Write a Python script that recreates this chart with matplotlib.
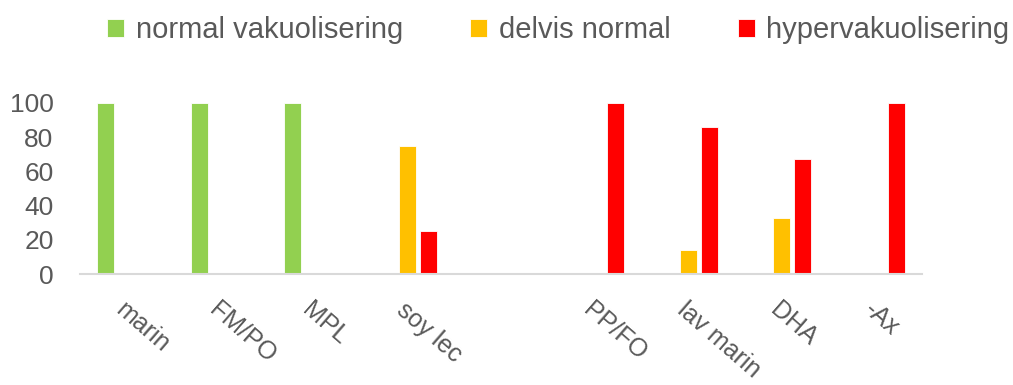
import matplotlib.pyplot as plt
import numpy as np

plt.rcParams['font.family'] = ['Liberation Sans', 'DejaVu Sans']

kategorier = ['marin', 'FM/PO', 'MPL', 'soy lec', '', 'PP/FO', 'lav marin', 'DHA', '-Ax']
normal = [100, 100, 100, 0, 0, 0, 0, 0, 0]
delvis = [0, 0, 0, 75, 0, 0, 14, 33, 0]
hyper = [0, 0, 0, 25, 0, 100, 86, 67, 100]
serier = ['normal vakuolisering', 'delvis normal', 'hypervakuolisering']
farger = ['#92D050', '#FFC000', '#FF0000']

tekst = '#595959'

fig = plt.figure(figsize=(10.13, 3.85), dpi=100)
ax = fig.add_axes([80 / 1013, 111 / 385, 842 / 1013, 171 / 385])

x = np.arange(len(kategorier))
bredde = 0.18
avstand = 0.225
for i, (verdier, navn, farge) in enumerate(zip([normal, delvis, hyper], serier, farger)):
    v = np.array(verdier, dtype=float)
    v[v == 0] = np.nan
    ax.bar(x + (i - 1) * avstand, v, width=bredde, color=farge, label=navn,
           edgecolor='white', linewidth=0.6)

ax.set_xlim(-0.5, len(kategorier) - 0.5)
ax.set_ylim(0, 100)
ax.set_yticks(range(0, 101, 20))
ax.set_xticks(x)
ax.set_xticklabels(kategorier, rotation=-41, ha='left', va='top', rotation_mode='anchor')
ax.tick_params(axis='x', length=0, pad=17, labelsize=18, labelcolor=tekst)
ax.tick_params(axis='y', length=0, pad=19, labelsize=19, labelcolor=tekst)

for s in ['top', 'right', 'left']:
    ax.spines[s].set_visible(False)
ax.spines['bottom'].set_color('#d9d9d9')
ax.spines['bottom'].set_linewidth(1.5)

fig.legend(loc='center left', bbox_to_anchor=(0.106, 0.922), ncol=3, frameon=False,
           fontsize=21, labelcolor=tekst, handlelength=0.58, handleheight=0.58,
           handletextpad=0.4, columnspacing=2.3, borderpad=0, borderaxespad=0)

fig.savefig('out.png', dpi=100)
